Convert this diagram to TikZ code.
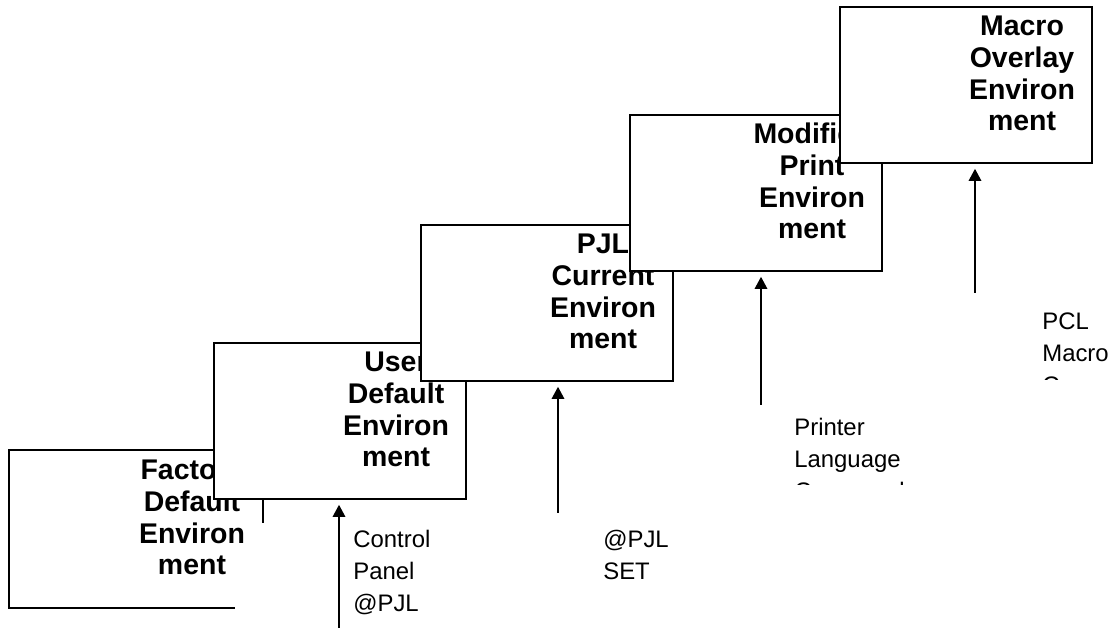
\documentclass[tikz,border=0pt]{standalone}
\usepackage{fontspec}
\setmainfont{Liberation Sans}
\usetikzlibrary{arrows.meta,calc}

\begin{document}
\begin{tikzpicture}[x=0.02cm,y=-0.02cm,
  envbox/.style={fill=white,line width=1.1pt,anchor=north west,inner sep=0,
    minimum width=5.04cm,minimum height=3.12cm},
  envtext/.style={font=\fontsize{16.2}{18.2}\selectfont\bfseries,align=center,anchor=base,inner sep=0},
  cmdtext/.style={font=\fontsize{13.6}{18.4}\selectfont,align=left,anchor=base west,inner sep=0},
  cmdarrow/.style={line width=0.85pt,-{Triangle[length=0.24cm,width=0.25cm]},shorten >=2.8pt}]
\useasboundingbox (0,0) rectangle (1110,631);

% environments, each one drawn over the one before
\node[envbox] (factory) at (9,450) {};
\draw[line width=1.1pt] ($(factory.south east)+(0,-85)$) |- (factory.north west) |- ($(factory.south west)+(226,0)$);
\node[envtext] (factorytext) at ($(factory.north west)+(183,125)$) {Factory\\Default\\Environ\hspace*{0.32cm}\\ment};

\node[envbox, draw] (user) at (213,342) {};
\node[envtext] (usertext) at ($(user.north west)+(183,125)$) {User\\Default\\Environ\hspace*{0.32cm}\\ment};

\node[envbox, draw] (pjl) at (420,224) {};
\node[envtext] (pjltext) at ($(pjl.north west)+(183,125)$) {PJL\\Current\\Environ\hspace*{0.32cm}\\ment};

\node[envbox, draw] (modified) at (629,114) {};
\node[envtext] (modifiedtext) at ($(modified.north west)+(183,125)$) {Modified\\Print\\Environ\hspace*{0.32cm}\\ment};

\node[envbox, draw] (macro) at (839,6) {};
\node[envtext] (macrotext) at ($(macro.north west)+(183,125)$) {Macro\\Overlay\\Environ\hspace*{0.32cm}\\ment};

% commands
\node[cmdtext] (panel) at (353,612) {Control\\Panel\\@PJL};
\node[cmdtext] (pjlset) at (603,580) {@PJL\\SET};
\begin{scope}
  \clip (770,400) rectangle (1000,485);
  \node[cmdtext] (printer) at (794,500) {Printer\\Language\\Commands};
\end{scope}
\begin{scope}
  \clip (1020,300) rectangle (1110,380);
  \node[cmdtext] (pclmacro) at (1042,394) {PCL\\Macro\\Commands};
\end{scope}

\coordinate (a1) at (339,628);
\coordinate (a2) at (558,513);
\coordinate (a3) at (761,405);
\coordinate (a4) at (975,293);
\draw[cmdarrow] (a1) -- (a1 |- user.south);
\draw[cmdarrow] (a2) -- (a2 |- pjl.south);
\draw[cmdarrow] (a3) -- (a3 |- modified.south);
\draw[cmdarrow] (a4) -- (a4 |- macro.south);
\end{tikzpicture}
\end{document}
